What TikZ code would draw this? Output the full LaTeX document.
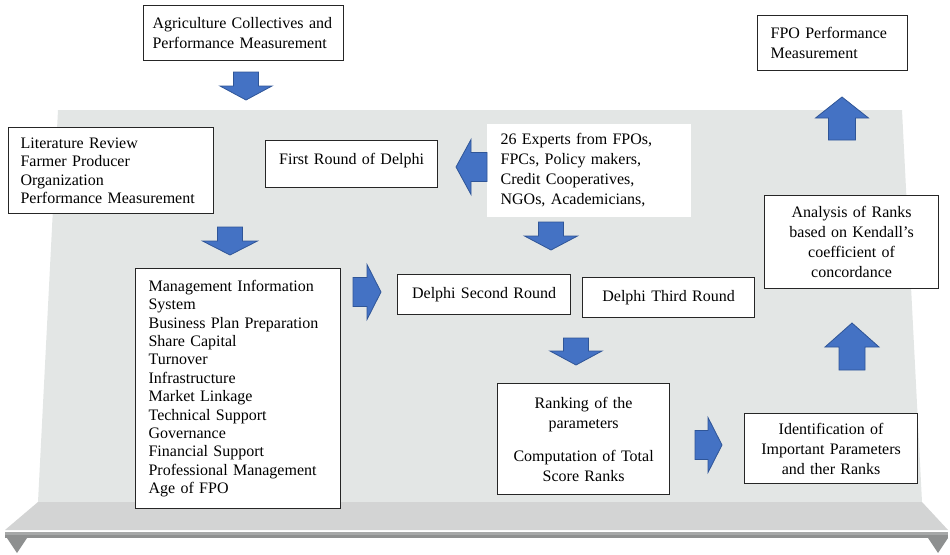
\documentclass[tikz,border=0pt]{standalone}
\usepackage{fontspec}
\setmainfont{Liberation Serif}
\usepackage{tikz}
\usetikzlibrary{calc}

\definecolor{panelgray}{HTML}{E3E6E5}
\definecolor{shelfgray}{HTML}{D3D4D4}
\definecolor{railgray}{HTML}{A6A8A8}
\definecolor{raildark}{HTML}{8E9090}
\definecolor{arrowblue}{HTML}{4472C4}
\definecolor{arrowedge}{HTML}{2F5597}

\tikzstyle{box} = [draw=black!85, line width=1.2pt, fill=white, anchor=north west, inner ysep=0pt, font=\fontsize{16}{20}\selectfont]
\tikzstyle{listbox} = [box, align=left, font=\fontsize{16}{18.4}\selectfont]
\tikzstyle{arrowbody} = [fill=arrowblue, draw=arrowedge, line width=0.8pt, line join=miter]

% block arrow pointing down from its tail centre: length, head width, shaft width, head length
\tikzset{
  pics/blockarrow/.style n args={4}{code={
    \filldraw[arrowbody] (-#3/2,0) -- (#3/2,0) -- (#3/2,#1-#4) -- (#2/2,#1-#4)
      -- (0,#1) -- (-#2/2,#1-#4) -- (-#3/2,#1-#4) -- cycle;
  }}
}

\begin{document}
\begin{tikzpicture}[x=1pt,y=-1pt]
            \useasboundingbox (0,0) rectangle (950,554);

            % background panel and shelf
            \fill[panelgray] (58,110) -- (902,110) -- (922,502) -- (38,502) -- cycle;
            \fill[shelfgray] (38,502) -- (922,502) -- (948,530) -- (5,530) -- cycle;
            \fill[railgray] (5,532) rectangle (948,535);
            \fill[raildark] (5,535) rectangle (948,538);
            \fill[raildark] (7,538) -- (27,538) -- (17,553) -- cycle;
            \fill[raildark] (928,538) -- (948,538) -- (938,553) -- cycle;

            % boxes
            \node[box, align=left, inner xsep=9pt, text width=182pt, minimum height=55pt] (agri) at (143,5) {Agriculture Collectives and\\Performance Measurement};
            \node[box, align=left, inner xsep=13pt, text width=124pt, minimum height=55pt] (fpo) at (757,15) {FPO Performance\\Measurement};
            \node[listbox, inner xsep=12pt, text width=181pt, minimum height=86pt] (lit) at (8,127) {Literature Review\\Farmer Producer\\Organization\\Performance Measurement};
            \node[box, align=center, inner xsep=6pt, text width=160pt, minimum height=47pt, text height=11pt, text depth=11pt] (first) at (265,140) {First Round of Delphi};
            \node[box, draw=none, align=left, inner xsep=14pt, text width=176pt, minimum height=93pt] (experts) at (486,123) {26 Experts from FPOs,\\FPCs, Policy makers,\\Credit Cooperatives,\\NGOs, Academicians,};
            \node[listbox, inner xsep=13pt, text width=179pt, minimum height=240pt] (mis) at (135,268) {Management Information\\System\\Business Plan Preparation\\Share Capital\\Turnover\\Infrastructure\\Market Linkage\\Technical Support\\Governance\\Financial Support\\Professional Management\\Age of FPO};
            \node[box, align=center, inner xsep=6pt, text width=161pt, minimum height=40pt] (second) at (397,274) {Delphi Second Round};
            \node[box, align=center, inner xsep=6pt, text width=160pt, minimum height=40pt] (third) at (582,277) {Delphi Third Round};
            \node[box, align=center, inner xsep=6pt, text width=160pt, minimum height=111pt] (rank) at (497,383) {Ranking of the\\parameters\\[13pt]Computation of Total\\Score Ranks};
            \node[box, align=center, inner xsep=6pt, text width=161pt, minimum height=70pt] (ident) at (744,413) {Identification of\\Important Parameters\\and ther Ranks};
            \node[box, align=center, inner xsep=6pt, text width=162pt, minimum height=93pt] (analysis) at (764,195) {Analysis of Ranks\\based on Kendall’s\\coefficient of\\concordance};

            % block arrows
            \pic (arAgri) at (246,72) {blockarrow={28}{52}{25}{14}};
            \pic (arLit) at (230,227) {blockarrow={28}{55}{25}{14}};
            \pic (arExperts) at (551,222) {blockarrow={28}{53}{25}{14}};
            \pic (arRounds) at (576,338) {blockarrow={27}{52}{25}{14}};
            \pic[rotate=90] (arMis) at (353,292) {blockarrow={28}{55}{29}{14}};
            \pic[rotate=90] (arRank) at (695,445) {blockarrow={27}{55}{29}{14}};
            \pic[rotate=-90] (arFirst) at (487,167) {blockarrow={31}{55}{29}{15}};
            \pic[rotate=180] (arIdent) at (852,370) {blockarrow={47}{54}{26}{24}};
            \pic[rotate=180] (arAnalysis) at (842,140) {blockarrow={43}{53}{27}{21}};
        \end{tikzpicture}
\end{document}
